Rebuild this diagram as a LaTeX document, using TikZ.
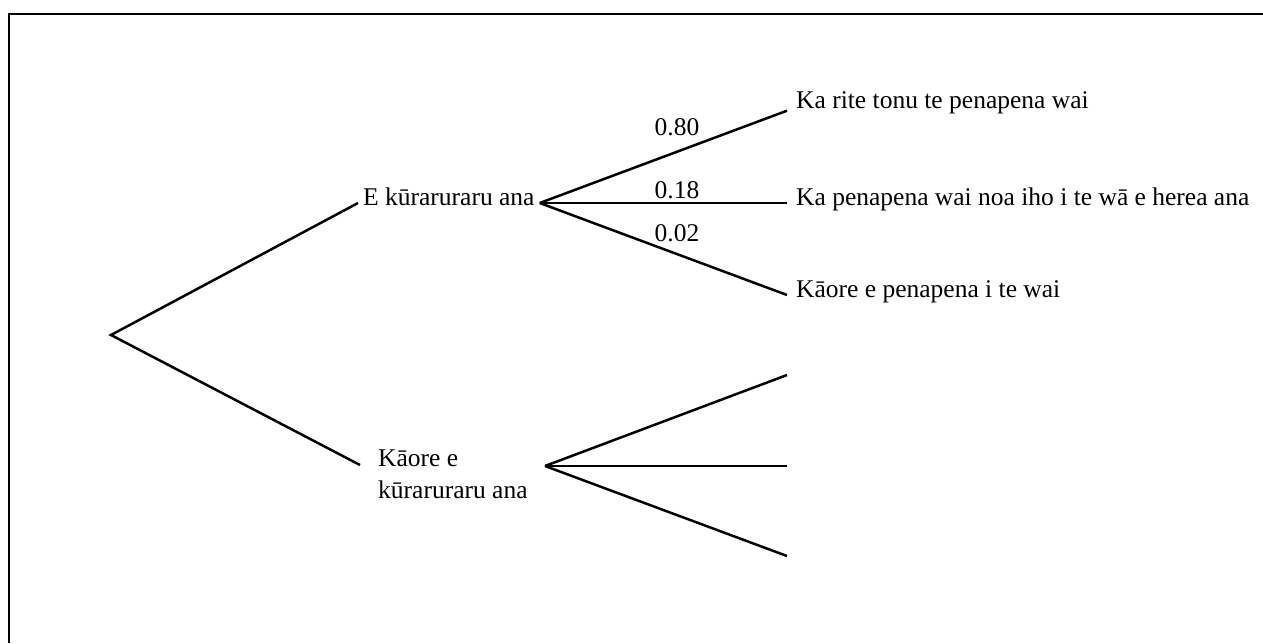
\documentclass[tikz,border=0pt]{standalone}
\usepackage{fontspec}
\setmainfont{Liberation Serif}

\begin{document}
\begin{tikzpicture}[x=1pt, y=-1pt, br/.style={line width=2.5pt}, lab/.style={font=\fontsize{25.5}{31.5}\selectfont, text height=0.7em, text depth=0.2em, inner ysep=0pt}, leaf/.style={lab, anchor=west, inner xsep=9pt}, p/.style={lab, anchor=base, inner sep=0pt}]
            \useasboundingbox (0,0) rectangle (1263,643);
            \draw[line width=1.2pt] (9,643) -- (9,14) -- (1263,14);
            % nodes
            \coordinate (root) at (111,335);
            \node[lab, anchor=west, inner xsep=5pt] (e) at (358,203) {E kūraruraru ana};
            \node[lab, text height=, text depth=, align=left, anchor=north west, inner sep=0pt] (k) at (378,450) {Kāore e\\kūraruraru ana};
            \coordinate (kin) at (360,465);
            \coordinate (kout) at (545,466);
            \node[leaf] (r1) at (787,106) {Ka rite tonu te penapena wai};
            \node[leaf] (r2) at (787,203) {Ka penapena wai noa iho i te wā e herea ana};
            \node[leaf] (r3) at (787,295) {Kāore e penapena i te wai};
            \coordinate (s1) at (787,375);
            \coordinate (s2) at (787,466);
            \coordinate (s3) at (787,556);
            \node[p] (p1) at (677,135) {0.80};
            \node[p] (p2) at (677,198) {0.18};
            \node[p] (p3) at (677,241) {0.02};
            % edges
            \draw[br] (e.west) -- (root) -- (kin);
            \draw[br] (e.east) -- (r1.south west);
            \draw[br] (e.east) -- (r2.west);
            \draw[br] (e.east) -- (r3.west);
            \draw[br] (kout) -- (s1);
            \draw[br] (kout) -- (s2);
            \draw[br] (kout) -- (s3);
        \end{tikzpicture}
\end{document}
